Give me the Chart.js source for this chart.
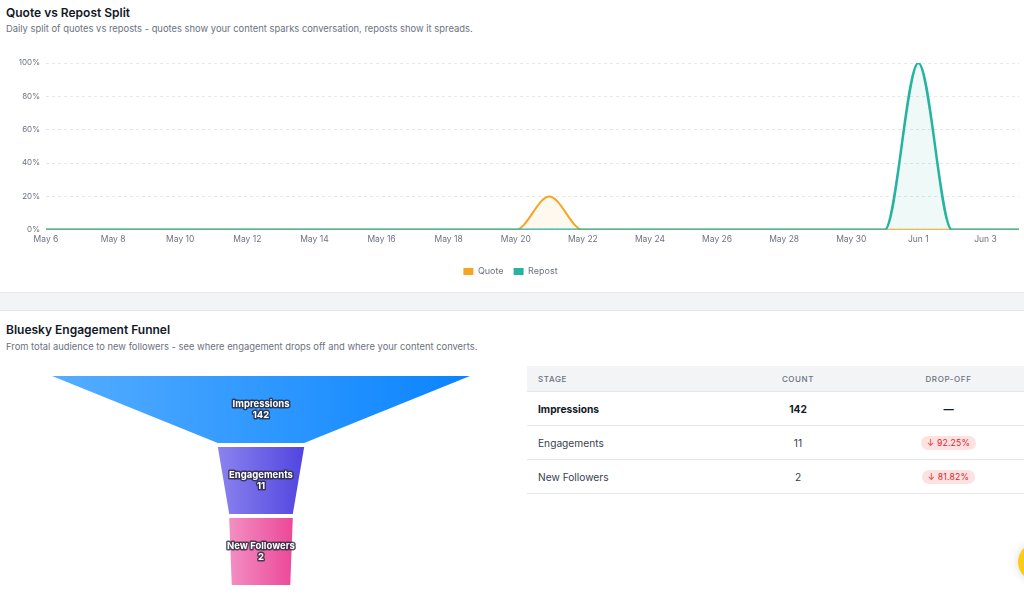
<!DOCTYPE html>
<html>
<head>
<meta charset="utf-8">
<script src="https://cdn.jsdelivr.net/npm/chart.js@4.4.1/dist/chart.umd.min.js"></script>
<style>
  html, body { margin: 0; padding: 0; background: #fff; }
  body { width: 1024px; height: 600px; position: relative; overflow: hidden; font-family: Inter, "Noto Sans", sans-serif; color: #111827; }
  .title { position: absolute; left: 6px; font-size: 12px; font-weight: 600; color: #111827; }
  .sub { position: absolute; left: 6px; font-size: 9.4px; color: #6b7280; }
  .band { position: absolute; left: 0; top: 292px; width: 1024px; height: 19px; background: #f3f4f6; border-top: 1px solid #e5e7eb; border-bottom: 1px solid #e5e7eb; box-sizing: border-box; }
  #splitWrap { position: absolute; left: 0; top: 48px; width: 1024px; height: 238px; }
  #funnelWrap { position: absolute; left: 0; top: 370px; width: 522px; height: 220px; }
  table { position: absolute; left: 527px; top: 366px; width: 497px; border-collapse: collapse; font-size: 10.2px; color: #374151; }
  th { background: #f3f4f6; color: #6b7280; font-weight: 500; font-size: 8px; letter-spacing: 0.6px; text-transform: uppercase; height: 25px; padding: 0; border-bottom: 1px solid #e5e7eb; }
  td { height: 33px; padding: 0; border-bottom: 1px solid #e5e7eb; }
  .c1 { text-align: left; padding-left: 11px; width: 185px; }
  .c2 { text-align: center; width: 150px; }
  .c3 { text-align: center; }
  .bold { font-weight: 700; color: #111827; }
  .badge { display: inline-block; background: #fee2e2; color: #dc2626; border-radius: 8px; font-size: 8.6px; padding: 1px 6px; line-height: 12px; letter-spacing: 0.2px; }
  .fab { position: absolute; left: 1018px; top: 543px; width: 38px; height: 38px; border-radius: 50%; background: #facc15; box-shadow: 0 0 10px rgba(0,0,0,0.15); }
</style>
</head>
<body>
<div class="title" style="top:5px">Quote vs Repost Split</div>
<div class="sub" style="top:23px">Daily split of quotes vs reposts - quotes show your content sparks conversation, reposts show it spreads.</div>
<div id="splitWrap"><canvas id="split"></canvas></div>
<div class="band"></div>
<div class="title" style="top:322px">Bluesky Engagement Funnel</div>
<div class="sub" style="top:341px">From total audience to new followers - see where engagement drops off and where your content converts.</div>
<div id="funnelWrap"><canvas id="funnel"></canvas></div>
<table id="stageTable"></table>
<div class="fab"></div>
<script>
// daily split data, May 6 -> Jun 4
const days = ['May 6','May 7','May 8','May 9','May 10','May 11','May 12','May 13','May 14','May 15',
  'May 16','May 17','May 18','May 19','May 20','May 21','May 22','May 23','May 24','May 25',
  'May 26','May 27','May 28','May 29','May 30','May 31','Jun 1','Jun 2','Jun 3','Jun 4'];
const quotePct = [0,0,0,0,0,0,0,0,0,0, 0,0,0,0,0,20,0,0,0,0, 0,0,0,0,0,0,0,0,0,0];
const repostPct = [0,0,0,0,0,0,0,0,0,0, 0,0,0,0,0,0,0,0,0,0, 0,0,0,0,0,0,100,0,0,0];
const yTicks = [0, 20, 40, 60, 80, 100];

// funnel data
const stages = ['Impressions', 'Engagements', 'New Followers'];
const stageCounts = [142, 11, 2];
const dropOff = [null, 92.25, 81.82];
const stageLight = ['#55adff', '#8b83ee', '#f28fc2'];
const stageDark = ['#0a84ff', '#5145e0', '#ec4899'];

const ORANGE = '#f5a524', TEAL = '#26b3a0';

new Chart(document.getElementById('split'), {
  type: 'line',
  data: {
    labels: days,
    datasets: [
      { label: 'Quote', data: quotePct, borderColor: ORANGE, backgroundColor: 'rgba(245,165,36,0.08)',
        fill: 'origin', order: 1, borderWidth: 2 },
      // repost sits on top and slightly wider so the shared zero line reads teal
      { label: 'Repost', data: repostPct, borderColor: TEAL, backgroundColor: 'rgba(38,179,160,0.08)',
        fill: 'origin', order: 0, borderWidth: 2.5 }
    ]
  },
  options: {
    responsive: true, maintainAspectRatio: false, animation: false,
    elements: { line: { cubicInterpolationMode: 'monotone' }, point: { radius: 0 } },
    layout: { padding: { left: 0, right: 3, top: 15, bottom: 0 } },
    plugins: {
      tooltip: { enabled: false },
      legend: {
        position: 'bottom',
        labels: {
          boxWidth: 10, boxHeight: 7, color: '#6b7280', font: { family: 'Inter', size: 9 }, padding: 10,
          sort: (a, b) => a.datasetIndex - b.datasetIndex,
          generateLabels: chart => Chart.defaults.plugins.legend.labels.generateLabels(chart).map(l =>
            Object.assign(l, { fillStyle: l.strokeStyle, lineWidth: 0 }))
        }
      }
    },
    scales: {
      x: {
        grid: { display: false, drawTicks: false }, border: { display: false },
        afterFit: s => { s.height += 7; },
        ticks: { autoSkip: false, maxRotation: 0, color: '#6b7280', font: { family: 'Inter', size: 8.5 }, padding: 5,
          callback: (v, i) => i % 2 === 0 ? days[i] : '' }
      },
      y: {
        min: 0, max: 100,
        afterFit: s => { s.width = 46; },
        afterBuildTicks: s => { s.ticks = yTicks.map(v => ({ value: v })); },
        grid: { color: '#e5e7eb', drawTicks: false }, border: { display: false, dash: [3, 3] },
        ticks: { color: '#6b7280', font: { family: 'Inter', size: 8 }, padding: 6, callback: v => v + '%' }
      }
    }
  }
});

// funnel geometry
const SEG_H = 67, SEG_GAP = 4;
const maxCount = Math.max(...stageCounts);
const widthOf = v => 0.14 + 0.86 * v / maxCount;
const polys = stageCounts.map((v, i) => {
  const top = widthOf(v);
  const bot = i < stageCounts.length - 1 ? widthOf(stageCounts[i + 1]) : top * 0.92;
  const y0 = i * (SEG_H + SEG_GAP), y1 = y0 + SEG_H;
  return { top, bot, y0, y1, pts: [
    { x: -top / 2, y: y0 }, { x: top / 2, y: y0 }, { x: bot / 2, y: y1 }, { x: -bot / 2, y: y1 }, { x: -top / 2, y: y0 }
  ] };
});

const funnelLabels = {
  id: 'funnelLabels',
  afterDatasetsDraw(chart) {
    const { ctx, scales: { x, y } } = chart;
    ctx.save();
    ctx.font = 'bold 9.5px Inter';
    ctx.textAlign = 'center';
    ctx.textBaseline = 'middle';
    ctx.lineJoin = 'round';
    polys.forEach((p, i) => {
      const cx = x.getPixelForValue(0);
      const cy = y.getPixelForValue((p.y0 + p.y1) / 2);
      [[stages[i], cy - 5.5], [String(stageCounts[i]), cy + 5.5]].forEach(([t, ty]) => {
        ctx.strokeStyle = 'rgba(40,40,60,0.8)';
        ctx.lineWidth = 3;
        ctx.strokeText(t, cx, ty);
        ctx.fillStyle = '#fff';
        ctx.fillText(t, cx, ty);
      });
    });
    ctx.restore();
  }
};

new Chart(document.getElementById('funnel'), {
  type: 'line',
  data: {
    datasets: polys.map((p, i) => ({
      label: stages[i],
      data: p.pts,
      fill: 'shape',
      borderWidth: 0,
      borderColor: 'transparent',
      tension: 0,
      pointRadius: 0,
      backgroundColor: ctx => {
        const { chart } = ctx;
        if (!chart.chartArea) return stageDark[i];
        const xs = chart.scales.x;
        const g = chart.ctx.createLinearGradient(xs.getPixelForValue(-p.top / 2), 0, xs.getPixelForValue(p.top / 2), 0);
        g.addColorStop(0, stageLight[i]);
        g.addColorStop(1, stageDark[i]);
        return g;
      }
    }))
  },
  options: {
    responsive: true, maintainAspectRatio: false, animation: false,
    layout: { padding: { left: 52, right: 52, top: 6, bottom: 5 } },
    plugins: { legend: { display: false }, tooltip: { enabled: false } },
    scales: {
      x: { type: 'linear', min: -0.5, max: 0.5, display: false },
      y: { type: 'linear', min: 0, max: 3 * SEG_H + 2 * SEG_GAP, reverse: true, display: false }
    }
  },
  plugins: [funnelLabels]
});

// table
const rows = stages.map((s, i) => {
  const first = i === 0;
  const drop = dropOff[i] == null ? '<span style="font-weight:700;color:#111827">—</span>'
    : '<span class="badge">↓ ' + dropOff[i].toFixed(2) + '%</span>';
  return '<tr><td class="c1' + (first ? ' bold' : '') + '">' + s + '</td><td class="c2' + (first ? ' bold' : '') + '">' +
    stageCounts[i] + '</td><td class="c3">' + drop + '</td></tr>';
});
document.getElementById('stageTable').innerHTML =
  '<tr><th class="c1">Stage</th><th class="c2">Count</th><th class="c3">Drop-off</th></tr>' + rows.join('');
</script>
</body>
</html>
